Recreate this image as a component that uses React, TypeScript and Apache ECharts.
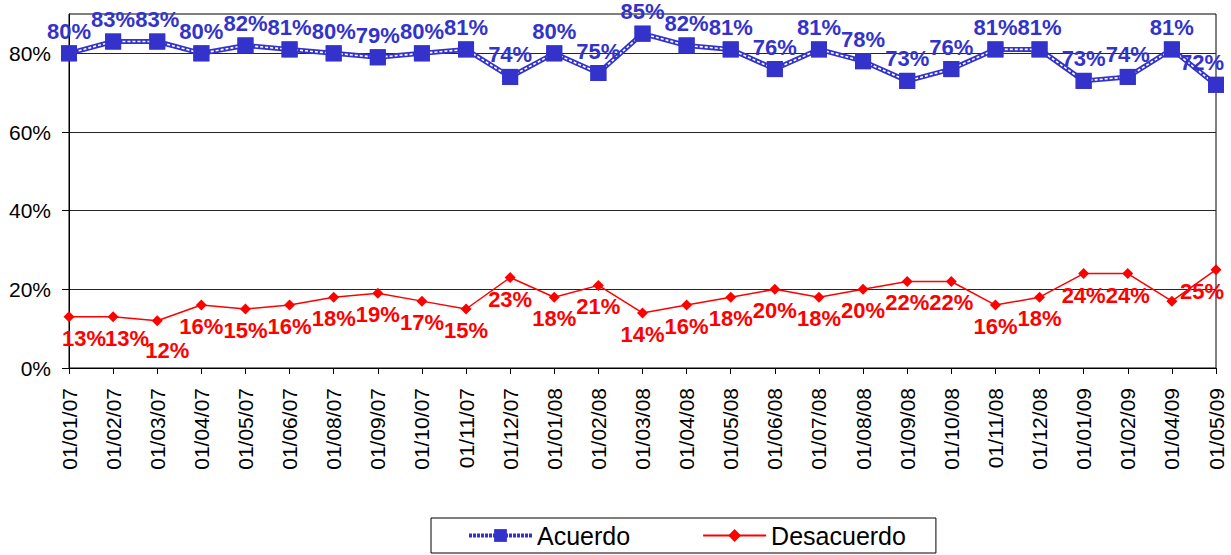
import React, { useEffect, useRef } from "react";
import * as echarts from "echarts";

const categories = [
  "01/01/07", "01/02/07", "01/03/07", "01/04/07", "01/05/07", "01/06/07", "01/08/07",
  "01/09/07", "01/10/07", "01/11/07", "01/12/07", "01/01/08", "01/02/08", "01/03/08",
  "01/04/08", "01/05/08", "01/06/08", "01/07/08", "01/08/08", "01/09/08", "01/10/08",
  "01/11/08", "01/12/08", "01/01/09", "01/02/09", "01/04/09", "01/05/09",
];
const acuerdo = [80, 83, 83, 80, 82, 81, 80, 79, 80, 81, 74, 80, 75, 85, 82, 81, 76, 81, 78, 73, 76, 81, 81, 73, 74, 81, 72];
const desacuerdo = [13, 13, 12, 16, 15, 16, 18, 19, 17, 15, 23, 18, 21, 14, 16, 18, 20, 18, 20, 22, 22, 16, 18, 24, 24, 17, 25];
const desacuerdoUnlabelled = [25];
const yLabelValues = [0, 20, 40, 60, 80];

const BLUE = "#3333cc";
const RED = "#ff0000";
const FONT = "Arial, 'Liberation Sans', sans-serif";

// nudges [dx, dy] of a few data labels (layout only)
const desLabelNudge: Record<number, number[]> = { 0: [15, 0], 1: [14, 0], 2: [10, 8], 26: [-14, 0] };
const acuLabelNudge: Record<number, number[]> = { 26: [-14, 0] };

export default function App() {
  const ref = useRef<HTMLDivElement>(null);
  useEffect(() => {
    if (!ref.current) return;
    const chart = echarts.init(ref.current, null, { renderer: "svg" });
    const acuData = acuerdo.map((v, i) =>
      acuLabelNudge[i] !== undefined ? { value: v, label: { offset: acuLabelNudge[i] } } : v
    );
    const desData = desacuerdo.map((v, i) => {
      if (desacuerdoUnlabelled.includes(i)) return { value: v, label: { show: false } };
      if (desLabelNudge[i] !== undefined) return { value: v, label: { offset: desLabelNudge[i] } };
      return v;
    });
    chart.setOption({
      animation: false,
      backgroundColor: "#fff",
      textStyle: { fontFamily: FONT },
      grid: {
        left: 69,
        right: 15,
        top: 14,
        bottom: 187,
        show: true,
        borderColor: "#000",
        borderWidth: 1,
        containLabel: false,
      },
      legend: {
        data: [
          { name: "Acuerdo", lineStyle: { type: [3, 1], width: 4 } },
          { name: "Desacuerdo" },
        ],
        left: 431,
        top: 518,
        orient: "horizontal",
        itemWidth: 63,
        itemHeight: 16,
        itemGap: 72,
        padding: [4, 30, 4, 36],
        borderColor: "#000",
        borderWidth: 1,
        textStyle: { fontFamily: FONT, fontSize: 25, color: "#000", lineHeight: 27 },
      },
      xAxis: {
        type: "category",
        data: categories,
        boundaryGap: false,
        axisLine: { lineStyle: { color: "#000", width: 1 } },
        axisTick: { show: true, length: 6, lineStyle: { color: "#000" } },
        axisLabel: {
          rotate: 90,
          interval: 0,
          margin: 20,
          fontSize: 21,
          color: "#000",
          fontFamily: FONT,
        },
        splitLine: { show: false },
      },
      yAxis: {
        type: "value",
        min: 0,
        max: 90,
        interval: 10,
        axisLine: { show: true, lineStyle: { color: "#000", width: 1 } },
        axisTick: { show: true, length: 7, customValues: yLabelValues, lineStyle: { color: "#000" } },
        axisLabel: {
          customValues: yLabelValues,
          formatter: (v: number) => v + "%",
          margin: 18,
          fontSize: 21,
          color: "#000",
          fontFamily: FONT,
        },
        splitLine: { show: true, lineStyle: { color: "#262626", width: 1.2 } },
      },
      series: [
        {
          name: "Acuerdo",
          type: "line",
          data: acuerdo,
          z: 2,
          symbol: "rect",
          symbolSize: 16,
          itemStyle: { color: BLUE },
          lineStyle: { color: BLUE, width: 5 },
          label: { show: false },
        },
        {
          name: "_acuerdoPattern",
          type: "line",
          data: acuerdo,
          z: 3,
          silent: true,
          symbol: "none",
          lineStyle: { color: "#fff", width: 1.6, type: [3, 2] },
          tooltip: { show: false },
        },
        {
          name: "_acuerdoMarkers",
          type: "line",
          data: acuData,
          z: 4,
          symbol: "rect",
          symbolSize: 16,
          itemStyle: { color: BLUE },
          lineStyle: { width: 0, opacity: 0 },
          label: {
            show: true,
            position: "top",
            distance: 3,
            formatter: "{c}%",
            color: BLUE,
            fontWeight: "bold",
            fontSize: 22,
            fontFamily: FONT,
          },
        },
        {
          name: "Desacuerdo",
          type: "line",
          data: desData,
          z: 4,
          symbol: "diamond",
          symbolSize: 11,
          itemStyle: { color: RED },
          lineStyle: { color: RED, width: 1.5 },
          label: {
            show: true,
            position: "bottom",
            distance: 5,
            formatter: "{c}%",
            color: RED,
            fontWeight: "bold",
            fontSize: 22,
            fontFamily: FONT,
          },
        },
      ],
    });
    return () => chart.dispose();
  }, []);
  return (
    <div
      ref={ref}
      style={{ position: "fixed", left: 0, top: 0, width: 1231, height: 555, background: "#fff" }}
    />
  );
}
